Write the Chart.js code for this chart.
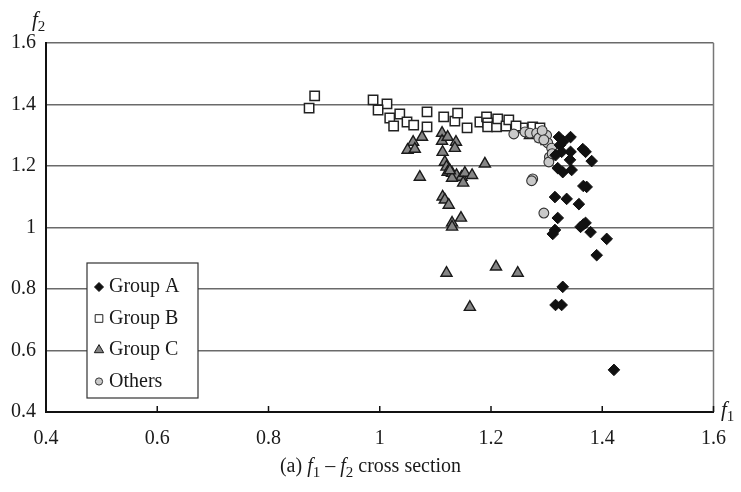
<!DOCTYPE html>
<html><head><meta charset="utf-8">
<script src="https://cdn.jsdelivr.net/npm/chart.js@4/dist/chart.umd.min.js"></script>
<style>
html,body{margin:0;padding:0;background:#fff;}
#wrap{position:relative;width:741px;height:492px;font-family:"Liberation Serif","DejaVu Serif",serif;color:#1a1a1a;overflow:hidden;}
canvas{position:absolute;left:0;top:0;}
.lbl{position:absolute;font-size:21px;line-height:21px;white-space:nowrap;}
.lbl sub{font-size:15px;vertical-align:-5px;line-height:0;}
</style></head>
<body><div id="wrap"><canvas id="c" width="741" height="492"></canvas>
<div class="lbl" style="left:32px;top:9px"><i>f</i><sub>2</sub></div>
<div class="lbl" style="left:721px;top:399px"><i>f</i><sub>1</sub></div>
<div class="lbl" id="cap" style="left:0;width:741px;text-align:center;top:455px;font-size:20px">(a) <i>f</i><sub>1</sub> – <i>f</i><sub>2</sub> cross section</div>
</div>
<script>
const tickValues = [0.4, 0.6, 0.8, 1.0, 1.2, 1.4, 1.6];
const seriesNames = ['Group A', 'Group B', 'Group C', 'Others'];

const groupA = [[1.322,1.294],[1.343,1.294],[1.324,1.268],[1.330,1.280],[1.327,1.246],[1.343,1.246],[1.365,1.255],[1.370,1.246],[1.381,1.216],[1.342,1.220],[1.320,1.193],[1.329,1.180],[1.345,1.187],[1.316,1.235],[1.372,1.132],[1.366,1.135],[1.315,1.099],[1.336,1.093],[1.358,1.076],[1.320,1.031],[1.315,0.992],[1.311,0.979],[1.361,1.002],[1.370,1.015],[1.366,1.010],[1.379,0.985],[1.408,0.963],[1.390,0.910],[1.329,0.807],[1.316,0.748],[1.327,0.748],[1.421,0.537]];

const groupB = [[0.873,1.388],[0.883,1.428],[0.988,1.415],[1.013,1.402],[0.997,1.382],[1.018,1.356],[1.036,1.369],[1.025,1.330],[1.049,1.343],[1.061,1.333],[1.085,1.376],[1.085,1.327],[1.115,1.360],[1.135,1.346],[1.140,1.372],[1.157,1.324],[1.180,1.343],[1.192,1.360],[1.194,1.340],[1.194,1.327],[1.210,1.327],[1.212,1.353],[1.227,1.330],[1.232,1.350],[1.257,1.324],[1.275,1.327],[1.288,1.324],[1.245,1.330]];

const groupC = [[1.076,1.294],[1.060,1.278],[1.050,1.252],[1.063,1.255],[1.112,1.307],[1.112,1.281],[1.122,1.294],[1.137,1.278],[1.135,1.258],[1.113,1.245],[1.072,1.164],[1.117,1.213],[1.120,1.197],[1.122,1.180],[1.130,1.177],[1.138,1.170],[1.147,1.164],[1.153,1.177],[1.166,1.170],[1.150,1.145],[1.130,1.161],[1.126,1.185],[1.189,1.207],[1.113,1.100],[1.117,1.090],[1.124,1.073],[1.146,1.031],[1.130,1.015],[1.130,1.002],[1.120,0.852],[1.209,0.872],[1.248,0.852],[1.162,0.741],[1.270,1.300],[1.290,1.290],[1.300,1.280]];

const others = [[1.241,1.304],[1.261,1.311],[1.270,1.307],[1.282,1.307],[1.300,1.300],[1.286,1.291],[1.302,1.275],[1.309,1.258],[1.305,1.229],[1.304,1.213],[1.310,1.240],[1.275,1.158],[1.273,1.152],[1.295,1.047],[1.292,1.315],[1.295,1.285]];

const toPts = arr => arr.map(p => ({x: p[0], y: p[1]}));

const styles = {
  'Group A': {pointStyle:'rectRot', radius:5.8, bg:'#111', border:'#111', bw:1, lr:4.5},
  'Group B': {pointStyle:'rect', radius:6.6, bg:'#fff', border:'#222', bw:1.5, lr:5.4},
  'Group C': {pointStyle:'triangle', radius:6.4, bg:'#858585', border:'#1a1a1a', bw:1.4, lr:5.4},
  'Others':  {pointStyle:'circle', radius:4.9, bg:'#c9c9c9', border:'#333', bw:1.1, lr:3.6}
};
const seriesData = {'Group A': groupA, 'Group B': groupB, 'Group C': groupC, 'Others': others};
const drawOrder = ['Group A', 'Others', 'Group C', 'Group B']; // first drawn on top

const FONT = '"Liberation Serif","DejaVu Serif",serif';

const framePlugin = {
  id: 'frame',
  beforeDatasetsDraw(chart) {
    const {ctx, chartArea: ca, scales} = chart;
    ctx.save();
    ctx.strokeStyle = '#777'; ctx.lineWidth = 1.5;
    ctx.beginPath(); ctx.moveTo(ca.right, ca.top); ctx.lineTo(ca.right, ca.bottom); ctx.stroke();
    ctx.strokeStyle = '#111'; ctx.lineWidth = 1.5;
    tickValues.forEach(v => {
      const px = scales.x.getPixelForValue(v);
      ctx.beginPath(); ctx.moveTo(px, ca.bottom); ctx.lineTo(px, ca.bottom - 6); ctx.stroke();
    });
    ctx.restore();
  },
  afterDatasetsDraw(chart) {
    const {ctx, chartArea: ca} = chart;
    const left = ca.left + 41, top = ca.bottom - 149, w = 111, h = 135;
    ctx.save();
    ctx.fillStyle = '#fff';
    ctx.fillRect(left, top, w, h);
    ctx.strokeStyle = '#333'; ctx.lineWidth = 1.2;
    ctx.strokeRect(left, top, w, h);
    ctx.font = '20px ' + FONT;
    ctx.textBaseline = 'middle';
    seriesNames.forEach((name, i) => {
      const y = top + 23 + i * 31.5;
      const s = styles[name];
      ctx.save();
      ctx.fillStyle = s.bg; ctx.strokeStyle = s.border; ctx.lineWidth = 1;
      Chart.helpers.drawPoint(ctx, {pointStyle: s.pointStyle, rotation: 0, radius: s.lr, borderWidth: 1}, left + 12, y + 1);
      ctx.restore();
      ctx.fillStyle = '#1a1a1a';
      ctx.fillText(name, left + 22, y + 1);
    });
    ctx.restore();
  }
};

new Chart(document.getElementById('c'), {
  type: 'scatter',
  data: {
    datasets: drawOrder.map(name => ({
      label: name,
      data: toPts(seriesData[name]),
      pointStyle: styles[name].pointStyle,
      pointRadius: styles[name].radius,
      backgroundColor: styles[name].bg,
      borderColor: styles[name].border,
      borderWidth: styles[name].bw
    }))
  },
  options: {
    responsive: false,
    animation: false,
    devicePixelRatio: 1,
    events: [],
    layout: {padding: {top: 43, right: 27, left: 0, bottom: 0}},
    plugins: {legend: {display: false}, tooltip: {enabled: false}},
    scales: {
      x: {
        type: 'linear', min: 0.4, max: 1.6,
        afterBuildTicks: s => { s.ticks = tickValues.map(v => ({value: v})); },
        afterFit: s => { s.height = 80; },
        grid: {display: false, drawTicks: false},
        border: {display: true, color: '#111', width: 2},
        ticks: {padding: 15, color: '#1a1a1a', font: {family: FONT, size: 20},
                callback: v => String(+v.toFixed(1)), maxRotation: 0}
      },
      y: {
        type: 'linear', min: 0.4, max: 1.6,
        afterBuildTicks: s => { s.ticks = tickValues.map(v => ({value: v})); },
        afterFit: s => { s.width = 46; },
        grid: {drawTicks: false, lineWidth: 1.5,
               color: c => (c.tick && c.tick.value === 0.4) ? 'rgba(0,0,0,0)' : '#6a6a6a'},
        border: {display: true, color: '#111', width: 2},
        ticks: {padding: 10, color: '#1a1a1a', font: {family: FONT, size: 20},
                callback: v => String(+v.toFixed(1))}
      }
    }
  },
  plugins: [framePlugin]
});
</script>
</body></html>
